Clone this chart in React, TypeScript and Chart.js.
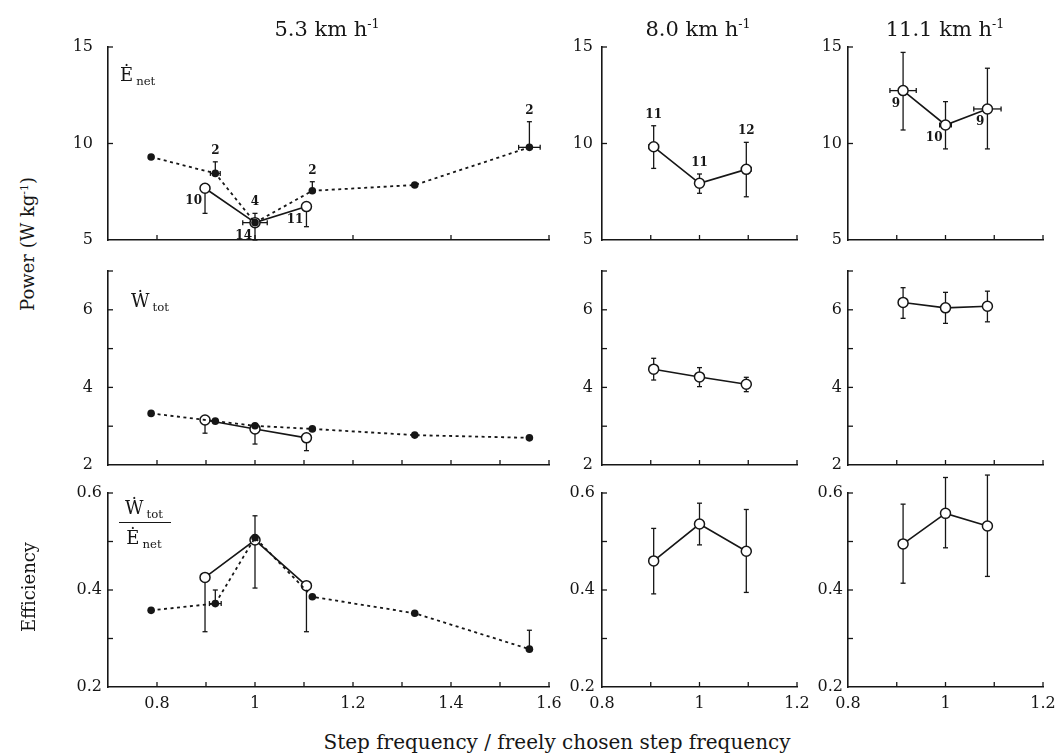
import React, { useEffect, useRef } from 'react';
import { Chart, registerables } from 'chart.js';

Chart.register(...registerables);

const SERIF = '"DejaVu Serif", "Liberation Serif", serif';
const INK = '#161616';

// ---------- axes ----------
const slowXRange = [0.7, 1.6];
const fastXRange = [0.8, 1.2];
const slowXLabels = [0.8, 1, 1.2, 1.4, 1.6];
const slowXTicksTop = [0.8, 1, 1.2, 1.4, 1.6];
const slowXTicksFine = [0.8, 0.9, 1, 1.1, 1.2, 1.3, 1.4, 1.5, 1.6];
const fastXLabels = [0.8, 1, 1.2];
const fastXTicks = [0.9, 1, 1.1, 1.2];

const enetRange = [5, 15];
const enetLabels = [5, 10, 15];
const enetTicks = [10, 15];
const wtotRange = [2, 7];
const wtotLabels = [2, 4, 6];
const wtotTicks = [3, 4, 5, 6, 7];
const effRange = [0.2, 0.6];
const effLabels = [0.2, 0.4, 0.6];
const effTicks = [0.3, 0.4, 0.5, 0.6];

const speedTitles = ['5.3', '8.0', '11.1'];

// ---------- 5.3 km/h, imposed frequencies (filled, dotted) ----------
const f53X = [0.788, 0.919, 1.0, 1.117, 1.326, 1.56];
const f53Enet = [9.3, 8.45, 5.9, 7.55, 7.85, 9.8];
const f53EnetHi = [null, 9.05, 6.38, 8.02, null, 11.13];
const f53EnetXErr = [null, 0.01, null, null, null, 0.022];
const f53EnetN = [null, '2', '4', '2', null, '2'];
const f53Wtot = [3.33, 3.13, 3.01, 2.93, 2.77, 2.7];
const f53Eff = [0.358, 0.372, 0.508, 0.386, 0.352, 0.278];
const f53EffHi = [null, 0.4, null, null, null, 0.317];
const f53EffXErr = [null, 0.012, null, null, null, null];

// ---------- 5.3 km/h, open circles (solid) ----------
const o53X = [0.898, 1.0, 1.105];
const o53Enet = [7.68, 5.9, 6.73];
const o53EnetLo = [6.38, 5.0, 5.69];
const o53EnetXErr = [0.009, 0.025, null];
const o53EnetN = ['10', '14', '11'];
const o53Wtot = [3.16, 2.93, 2.7];
const o53WtotLo = [2.82, 2.54, 2.37];
const o53Eff = [0.426, 0.503, 0.409];
const o53EffLo = [0.314, 0.404, 0.314];
const o53EffHi = [null, 0.553, 0.416];

// ---------- 8.0 km/h ----------
const x80 = [0.906, 1.0, 1.096];
const enet80 = [9.83, 7.94, 8.66];
const enet80Lo = [8.71, 7.42, 7.24];
const enet80Hi = [10.92, 8.42, 10.06];
const enet80XErr = [0.01, 0.008, 0.01];
const enet80N = ['11', '11', '12'];
const wtot80 = [4.47, 4.27, 4.08];
const wtot80Lo = [4.19, 4.02, 3.89];
const wtot80Hi = [4.75, 4.51, 4.26];
const eff80 = [0.46, 0.536, 0.48];
const eff80Lo = [0.392, 0.493, 0.395];
const eff80Hi = [0.527, 0.579, 0.566];

// ---------- 11.1 km/h ----------
const x111 = [0.913, 1.0, 1.086];
const enet111 = [12.74, 10.96, 11.79];
const enet111Lo = [10.7, 9.72, 9.72];
const enet111Hi = [14.72, 12.17, 13.9];
const enet111XErr = [0.027, 0.012, 0.028];
const enet111N = ['9', '10', '9'];
const wtot111 = [6.19, 6.05, 6.09];
const wtot111Lo = [5.78, 5.65, 5.69];
const wtot111Hi = [6.57, 6.45, 6.48];
const eff111 = [0.495, 0.558, 0.532];
const eff111Lo = [0.414, 0.487, 0.428];
const eff111Hi = [0.577, 0.632, 0.637];

type N = number | null;
type P = { x: number; y: number; lo: N; hi: N; xe: N; n: string | null };

const mk = (
  xs: number[],
  ys: number[],
  lo?: N[],
  hi?: N[],
  xe?: N[],
  n?: (string | null)[]
): P[] =>
  xs.map((x, i) => ({
    x,
    y: ys[i],
    lo: lo ? lo[i] : null,
    hi: hi ? hi[i] : null,
    xe: xe ? xe[i] : null,
    n: n ? n[i] : null,
  }));

// ---------- layout ----------
const COLS = [
  { l: 108, r: 549 },
  { l: 602, r: 797 },
  { l: 848, r: 1043 },
];
const ROWS = [
  { t: 47, b: 240 },
  { t: 271, b: 465 },
  { t: 493, b: 687 },
];
const YW = 56;
const PAD_T = 30;
const PAD_R = 30;
const XH = 36;
const Y_LABEL_GAP = [
  [15, 9, 6],
  [15, 9, 6],
  [6, 7, 5],
];

const decor = {
  id: 'decor',
  beforeDatasetsDraw(chart: any) {
    const { ctx } = chart;
    const x = chart.scales.x;
    const y = chart.scales.y;
    const o = chart.options.plugins.decor;
    ctx.save();
    ctx.strokeStyle = INK;
    ctx.lineWidth = 1.3;
    const seg = (a: number, b: number, c: number, d: number) => {
      ctx.beginPath();
      ctx.moveTo(a, b);
      ctx.lineTo(c, d);
      ctx.stroke();
    };
    for (const v of o.xTicks) {
      const p = x.getPixelForValue(v);
      seg(p, y.bottom, p, y.bottom - 5);
    }
    for (const v of o.yTicks) {
      const p = y.getPixelForValue(v);
      seg(x.left, p, x.left + 5, p);
    }
    chart.data.datasets.forEach((ds: any) =>
      ds.data.forEach((d: P) => {
        const px = x.getPixelForValue(d.x);
        const py = y.getPixelForValue(d.y);
        if (d.hi != null) {
          const t = y.getPixelForValue(d.hi);
          seg(px, py, px, t);
          seg(px - 2.5, t, px + 2.5, t);
        }
        if (d.lo != null) {
          const t = y.getPixelForValue(d.lo);
          seg(px, py, px, t);
          seg(px - 2.5, t, px + 2.5, t);
        }
        if (d.xe != null) {
          const l = x.getPixelForValue(d.x - d.xe);
          const r = x.getPixelForValue(d.x + d.xe);
          seg(l, py, r, py);
          seg(l, py - 2.5, l, py + 2.5);
          seg(r, py - 2.5, r, py + 2.5);
        }
      })
    );
    ctx.restore();
  },
  afterDatasetsDraw(chart: any) {
    const { ctx } = chart;
    const x = chart.scales.x;
    const y = chart.scales.y;
    ctx.save();
    ctx.fillStyle = INK;
    ctx.font = `bold 12px ${SERIF}`;
    ctx.textBaseline = 'middle';
    chart.data.datasets.forEach((ds: any) =>
      ds.data.forEach((d: P) => {
        if (!d.n) return;
        const px = x.getPixelForValue(d.x);
        const py = y.getPixelForValue(d.y);
        if (ds.labelPos === 'above') {
          const top = d.hi != null ? y.getPixelForValue(d.hi) : py - 6;
          ctx.textAlign = 'center';
          ctx.fillText(d.n, px, top - 11);
        } else {
          ctx.textAlign = 'right';
          ctx.fillText(d.n, px - 3, py + 13);
        }
      })
    );
    ctx.restore();
  },
};

const filledDs = (data: P[], labelPos = 'above') => ({
  data,
  labelPos,
  showLine: true,
  borderColor: INK,
  borderWidth: 1.8,
  borderDash: [3, 3.5],
  pointRadius: 3.8,
  pointBackgroundColor: INK,
  pointBorderColor: INK,
  pointBorderWidth: 0,
  clip: false,
});

const openDs = (data: P[], labelPos = 'belowLeft') => ({
  data,
  labelPos,
  showLine: true,
  borderColor: INK,
  borderWidth: 1.6,
  pointRadius: 5,
  pointBackgroundColor: '#ffffff',
  pointBorderColor: INK,
  pointBorderWidth: 1.5,
  clip: false,
});

type Spec = {
  col: number;
  row: number;
  xRange: number[];
  xLabels: number[];
  xTicks: number[];
  yRange: number[];
  yLabels: number[];
  yTicks: number[];
  datasets: any[];
};

const specs: Spec[] = [
  // row 0: net metabolic power
  {
    col: 0, row: 0, xRange: slowXRange, xLabels: slowXLabels, xTicks: slowXTicksTop,
    yRange: enetRange, yLabels: enetLabels, yTicks: enetTicks,
    datasets: [
      filledDs(mk(f53X, f53Enet, undefined, f53EnetHi, f53EnetXErr, f53EnetN)),
      openDs(mk(o53X, o53Enet, o53EnetLo, undefined, o53EnetXErr, o53EnetN)),
    ],
  },
  {
    col: 1, row: 0, xRange: fastXRange, xLabels: fastXLabels, xTicks: fastXTicks,
    yRange: enetRange, yLabels: enetLabels, yTicks: enetTicks,
    datasets: [openDs(mk(x80, enet80, enet80Lo, enet80Hi, enet80XErr, enet80N), 'above')],
  },
  {
    col: 2, row: 0, xRange: fastXRange, xLabels: fastXLabels, xTicks: fastXTicks,
    yRange: enetRange, yLabels: enetLabels, yTicks: enetTicks,
    datasets: [openDs(mk(x111, enet111, enet111Lo, enet111Hi, enet111XErr, enet111N))],
  },
  // row 1: total mechanical power
  {
    col: 0, row: 1, xRange: slowXRange, xLabels: slowXLabels, xTicks: slowXTicksFine,
    yRange: wtotRange, yLabels: wtotLabels, yTicks: wtotTicks,
    datasets: [filledDs(mk(f53X, f53Wtot)), openDs(mk(o53X, o53Wtot, o53WtotLo))],
  },
  {
    col: 1, row: 1, xRange: fastXRange, xLabels: fastXLabels, xTicks: fastXTicks,
    yRange: wtotRange, yLabels: wtotLabels, yTicks: wtotTicks,
    datasets: [openDs(mk(x80, wtot80, wtot80Lo, wtot80Hi))],
  },
  {
    col: 2, row: 1, xRange: fastXRange, xLabels: fastXLabels, xTicks: fastXTicks,
    yRange: wtotRange, yLabels: wtotLabels, yTicks: wtotTicks,
    datasets: [openDs(mk(x111, wtot111, wtot111Lo, wtot111Hi))],
  },
  // row 2: efficiency
  {
    col: 0, row: 2, xRange: slowXRange, xLabels: slowXLabels, xTicks: slowXTicksFine,
    yRange: effRange, yLabels: effLabels, yTicks: effTicks,
    datasets: [
      filledDs(mk(f53X, f53Eff, undefined, f53EffHi, f53EffXErr)),
      openDs(mk(o53X, o53Eff, o53EffLo, o53EffHi)),
    ],
  },
  {
    col: 1, row: 2, xRange: fastXRange, xLabels: fastXLabels, xTicks: fastXTicks,
    yRange: effRange, yLabels: effLabels, yTicks: effTicks,
    datasets: [openDs(mk(x80, eff80, eff80Lo, eff80Hi))],
  },
  {
    col: 2, row: 2, xRange: fastXRange, xLabels: fastXLabels, xTicks: fastXTicks,
    yRange: effRange, yLabels: effLabels, yTicks: effTicks,
    datasets: [openDs(mk(x111, eff111, eff111Lo, eff111Hi))],
  },
];

function Panel({ spec }: { spec: Spec }) {
  const ref = useRef<HTMLCanvasElement>(null);
  const c = COLS[spec.col];
  const r = ROWS[spec.row];
  const W = YW + (c.r - c.l) + PAD_R;
  const H = PAD_T + (r.b - r.t) + XH;
  const bottomRow = spec.row === 2;

  useEffect(() => {
    const chart = new Chart(ref.current as HTMLCanvasElement, {
      type: 'scatter',
      data: { datasets: spec.datasets },
      options: {
        animation: false,
        responsive: false,
        devicePixelRatio: 1,
        events: [],
        layout: { padding: { top: PAD_T, right: PAD_R, left: 0, bottom: 0 } },
        plugins: {
          legend: { display: false },
          tooltip: { enabled: false },
          decor: { xTicks: spec.xTicks, yTicks: spec.yTicks },
        } as any,
        scales: {
          x: {
            type: 'linear',
            min: spec.xRange[0],
            max: spec.xRange[1],
            grid: { display: false, drawTicks: false },
            border: { display: true, color: INK, width: 1.6 },
            afterBuildTicks: (s: any) => {
              s.ticks = spec.xLabels.map((v) => ({ value: v }));
            },
            afterFit: (s: any) => {
              s.height = XH;
            },
            ticks: {
              display: bottomRow,
              autoSkip: false,
              maxRotation: 0,
              padding: 7,
              color: INK,
              font: { family: SERIF, size: 16 },
              callback: (v: any) => String(v),
            },
          },
          y: {
            type: 'linear',
            min: spec.yRange[0],
            max: spec.yRange[1],
            grid: { display: false, drawTicks: false },
            border: { display: true, color: INK, width: 1.6 },
            afterBuildTicks: (s: any) => {
              s.ticks = spec.yLabels.map((v) => ({ value: v }));
            },
            afterFit: (s: any) => {
              s.width = YW;
            },
            ticks: {
              autoSkip: false,
              padding: Y_LABEL_GAP[spec.row][spec.col],
              color: INK,
              font: { family: SERIF, size: 16 },
              callback: (v: any) => String(v),
            },
          },
        },
      } as any,
      plugins: [decor as any],
    });
    return () => chart.destroy();
  }, []);

  return (
    <canvas
      ref={ref}
      width={W}
      height={H}
      style={{ position: 'absolute', left: c.l - YW, top: r.t - PAD_T, width: W, height: H }}
    />
  );
}

const txt: React.CSSProperties = {
  position: 'absolute',
  fontFamily: SERIF,
  color: INK,
  whiteSpace: 'nowrap',
  lineHeight: 1,
};

const supStyle: React.CSSProperties = {
  fontSize: '0.6em',
  position: 'relative',
  top: '-0.6em',
  verticalAlign: 'baseline',
};
const subStyle: React.CSSProperties = {
  fontSize: '0.65em',
  position: 'relative',
  top: '0.35em',
  verticalAlign: 'baseline',
  marginLeft: 3,
};

const titleCenters = [327, 698, 945];

export default function App() {
  return (
    <div
      style={{
        position: 'absolute',
        left: 0,
        top: 0,
        width: 1058,
        height: 754,
        background: '#fff',
        overflow: 'hidden',
      }}
    >
      {specs.map((s, i) => (
        <Panel key={i} spec={s} />
      ))}

      {speedTitles.map((t, i) => (
        <div
          key={t}
          style={{ ...txt, fontSize: 21, left: titleCenters[i], top: 19, transform: 'translateX(-50%)' }}
        >
          {t} km h<span style={supStyle}>-1</span>
        </div>
      ))}

      <div
        style={{
          ...txt,
          fontSize: 18,
          left: 28,
          top: 244,
          transform: 'translate(-50%, -50%) rotate(-90deg)',
        }}
      >
        Power (W kg<span style={supStyle}>-1</span>)
      </div>
      <div
        style={{
          ...txt,
          fontSize: 18,
          left: 29,
          top: 587,
          transform: 'translate(-50%, -50%) rotate(-90deg)',
        }}
      >
        Efficiency
      </div>
      <div style={{ ...txt, fontSize: 20, left: 557, top: 732, transform: 'translateX(-50%)' }}>
        Step frequency / freely chosen step frequency
      </div>

      <div style={{ ...txt, fontSize: 18, left: 120, top: 66 }}>
        Ė<span style={subStyle}>net</span>
      </div>
      <div style={{ ...txt, fontSize: 18, left: 131, top: 292 }}>
        Ẇ<span style={subStyle}>tot</span>
      </div>
      <div style={{ ...txt, fontSize: 18, left: 119, top: 499, textAlign: 'center' }}>
        <div style={{ borderBottom: `1.5px solid ${INK}`, padding: '0 8px 5px 6px' }}>
          Ẇ<span style={subStyle}>tot</span>
        </div>
        <div style={{ padding: '6px 8px 0 6px' }}>
          Ė<span style={subStyle}>net</span>
        </div>
      </div>
    </div>
  );
}
